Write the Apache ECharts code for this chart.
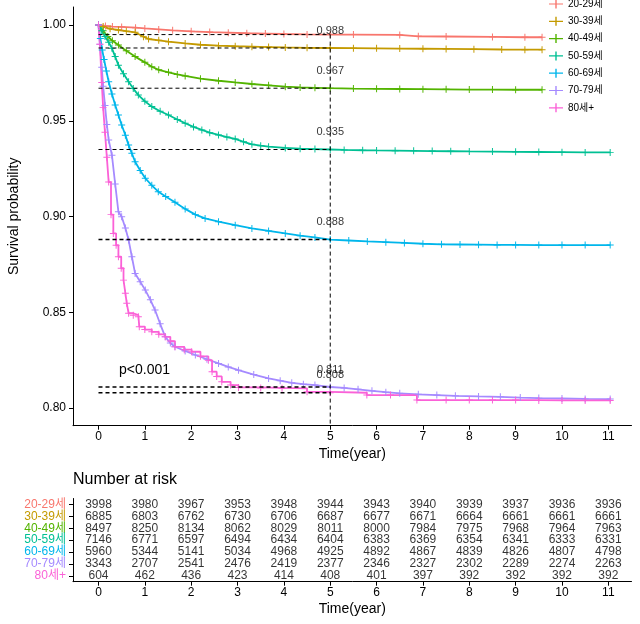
<!DOCTYPE html>
<html>
<head>
<meta charset="utf-8">
<script src="https://cdn.jsdelivr.net/npm/echarts@6/dist/echarts.min.js"></script>
<style>html,body{margin:0;padding:0;background:#fff}#c{width:640px;height:624px}</style>
</head>
<body>
<div id="c"></div>
<script>
// ---------------- DATA ----------------
const groups = ['20-29세', '30-39세', '40-49세', '50-59세', '60-69세', '70-79세', '80세+'];

// Kaplan-Meier curves: [time (year), survival probability]
const surv2029 = [[0,1],[0.15,0.9995],[0.3,0.9992],[0.5,0.999],[0.8,0.9986],[1.0,0.9982],[1.3,0.9977],[1.6,0.9972],[2.0,0.9967],[2.4,0.9963],[2.8,0.996],[3.2,0.9957],[3.6,0.9955],[4.0,0.9953],[4.5,0.9951],[5,0.995],[5.5,0.995],[6.5,0.9948],[6.9,0.9941],[7.5,0.994],[8.5,0.9938],[9.2,0.9936],[9.57,0.9936]];
const surv3039 = [[0,1],[0.1,0.9992],[0.25,0.998],[0.43,0.9974],[0.6,0.9968],[0.79,0.9962],[0.97,0.9939],[1.08,0.9927],[1.3,0.992],[1.51,0.9913],[1.87,0.9904],[2.2,0.9897],[2.59,0.9892],[2.95,0.9889],[3.31,0.9887],[3.67,0.9885],[4.03,0.9883],[4.5,0.9881],[5,0.988],[5.5,0.9879],[6,0.9878],[6.5,0.9877],[7,0.9876],[7.5,0.9875],[8.1,0.9874],[8.7,0.9872],[9.2,0.9871],[9.57,0.9871]];
const surv4049 = [[0,1],[0.1,0.997],[0.2,0.994],[0.3,0.9918],[0.43,0.9896],[0.6,0.9865],[0.79,0.9835],[1.0,0.9805],[1.15,0.9782],[1.3,0.9766],[1.51,0.9753],[1.7,0.9742],[1.87,0.9734],[2.2,0.972],[2.59,0.9709],[2.95,0.97],[3.31,0.9692],[3.67,0.9685],[4.03,0.9678],[4.35,0.9674],[4.67,0.9672],[5,0.967],[5.5,0.9668],[6,0.9667],[6.5,0.9666],[7,0.9665],[7.5,0.9664],[8,0.9663],[8.5,0.9663],[9,0.9662],[9.57,0.9662]];
const surv5059 = [[0,1],[0.07,0.997],[0.14,0.994],[0.22,0.991],[0.29,0.9878],[0.36,0.9835],[0.43,0.979],[0.54,0.9745],[0.65,0.9704],[0.75,0.9668],[0.86,0.9634],[1.0,0.9602],[1.15,0.9574],[1.33,0.955],[1.51,0.953],[1.7,0.9507],[1.87,0.9487],[2.05,0.9468],[2.23,0.9452],[2.4,0.9438],[2.59,0.9426],[2.77,0.9415],[2.95,0.9405],[3.13,0.939],[3.31,0.9377],[3.5,0.937],[3.67,0.9365],[4.03,0.9358],[4.35,0.9354],[4.67,0.9352],[5,0.935],[5.3,0.9348],[5.7,0.9346],[6.0,0.9345],[6.4,0.9344],[6.8,0.9343],[7.2,0.9342],[7.6,0.9341],[8.0,0.934],[8.5,0.9339],[9.0,0.9338],[9.5,0.9337],[10.0,0.9336],[10.5,0.9335],[11.04,0.9335]];
const surv6069 = [[0,1],[0.04,0.993],[0.08,0.987],[0.12,0.982],[0.17,0.976],[0.22,0.9704],[0.29,0.964],[0.36,0.9582],[0.43,0.953],[0.5,0.9478],[0.58,0.9425],[0.65,0.9373],[0.72,0.933],[0.79,0.9286],[0.9,0.924],[1.01,0.92],[1.15,0.9163],[1.29,0.913],[1.45,0.9105],[1.65,0.9075],[1.87,0.904],[2.09,0.901],[2.3,0.899],[2.59,0.8973],[2.95,0.8955],[3.31,0.8938],[3.67,0.8925],[4.03,0.8912],[4.35,0.89],[4.67,0.8891],[5,0.888],[5.4,0.8875],[5.8,0.887],[6.2,0.8866],[6.6,0.8862],[7.0,0.8858],[7.4,0.8855],[7.8,0.8854],[8.2,0.8853],[8.6,0.8852],[9.0,0.8852],[9.5,0.8851],[10,0.8851],[10.5,0.8851],[11.04,0.8851]];
const surv7079 = [[0,1],[0.03,0.99],[0.07,0.978],[0.1,0.968],[0.14,0.958],[0.18,0.948],[0.22,0.94],[0.29,0.932],[0.36,0.917],[0.43,0.9025],[0.5,0.8999],[0.58,0.894],[0.65,0.8877],[0.72,0.879],[0.79,0.8703],[0.9,0.866],[1.01,0.8616],[1.12,0.8565],[1.22,0.8512],[1.33,0.844],[1.44,0.8372],[1.55,0.834],[1.65,0.832],[1.87,0.8298],[2.09,0.8277],[2.34,0.8255],[2.59,0.8233],[2.8,0.8215],[3.02,0.8198],[3.35,0.8175],[3.67,0.8155],[3.92,0.8143],[4.17,0.8132],[4.42,0.8125],[4.67,0.812],[5,0.811],[5.3,0.8105],[5.6,0.8098],[5.9,0.809],[6.2,0.8083],[6.5,0.8077],[6.9,0.8072],[7.3,0.8068],[7.7,0.8064],[8.2,0.8061],[8.67,0.8059],[9.1,0.8055],[9.5,0.8052],[10,0.805],[10.5,0.8048],[11.04,0.8047]];
const surv80 = [[0,1],[0.03,0.99],[0.07,0.97],[0.1,0.957],[0.14,0.944],[0.18,0.931],[0.22,0.918],[0.27,0.901],[0.32,0.8912],[0.38,0.885],[0.43,0.879],[0.49,0.873],[0.54,0.8668],[0.58,0.86],[0.61,0.8547],[0.65,0.8495],[0.75,0.8485],[0.86,0.8477],[0.88,0.8425],[1.0,0.841],[1.15,0.8398],[1.3,0.8385],[1.44,0.8372],[1.55,0.835],[1.65,0.832],[1.85,0.8305],[2.01,0.8294],[2.2,0.827],[2.37,0.825],[2.45,0.819],[2.55,0.8165],[2.66,0.8137],[2.85,0.812],[3.02,0.8108],[3.5,0.8105],[3.96,0.8103],[4.5,0.8085],[5,0.808],[5.79,0.8068],[6.3,0.8068],[6.87,0.8042],[7.5,0.8042],[8,0.8042],[8.5,0.8042],[9,0.8042],[9.5,0.804],[10,0.804],[10.5,0.804],[11.04,0.804]];

// 5-year reference levels (dashed lines) and the printed labels
const fiveYearLevels = [0.995, 0.988, 0.967, 0.935, 0.888, 0.811, 0.808];
const fiveYearLabels = [0.988, 0.967, 0.935, 0.888, 0.811, 0.808];
const refTime = 5;
const pText = 'p<0.001';

// Number at risk table
const riskTimes = [0, 1, 2, 3, 4, 5, 6, 7, 8, 9, 10, 11];
const risk2029 = [3998, 3980, 3967, 3953, 3948, 3944, 3943, 3940, 3939, 3937, 3936, 3936];
const risk3039 = [6885, 6803, 6762, 6730, 6706, 6687, 6677, 6671, 6664, 6661, 6661, 6661];
const risk4049 = [8497, 8250, 8134, 8062, 8029, 8011, 8000, 7984, 7975, 7968, 7964, 7963];
const risk5059 = [7146, 6771, 6597, 6494, 6434, 6404, 6383, 6369, 6354, 6341, 6333, 6331];
const risk6069 = [5960, 5344, 5141, 5034, 4968, 4925, 4892, 4867, 4839, 4826, 4807, 4798];
const risk7079 = [3343, 2707, 2541, 2476, 2419, 2377, 2346, 2327, 2302, 2289, 2274, 2263];
const risk80 = [604, 462, 436, 423, 414, 408, 401, 397, 392, 392, 392, 392];

const xTicks = [0, 1, 2, 3, 4, 5, 6, 7, 8, 9, 10, 11];
const yTicks = [0.80, 0.85, 0.90, 0.95, 1.00];

// ---------------- STYLE / BUILD ----------------
const curves = [surv2029, surv3039, surv4049, surv5059, surv6069, surv7079, surv80];
const risks = [risk2029, risk3039, risk4049, risk5059, risk6069, risk7079, risk80];
const stepped = [false, false, false, false, false, false, 'end'];
const colors = ['#F8766D', '#C49A00', '#53B400', '#00C094', '#00B6EB', '#A58AFF', '#FB61D7'];
const FONT = '"Liberation Sans", Arial, "Noto Sans CJK KR", sans-serif';
const plus = 'path://M0,4.3h10v1.4h-10z M4.3,0h1.4v10h-1.4z';
const legendIcon = 'path://M0,4.4h14v1.2H0z M6.3,0.5h1.4v9H6.3z';
const X_MIN = -0.55, X_MAX = 11.5, Y_MIN = 0.7908, Y_MAX = 1.0094;

const chart = echarts.init(document.getElementById('c'), null, {renderer: 'canvas'});

const series = [];
groups.forEach((g, i) => {
  series.push({
    type: 'line', name: g, step: stepped[i], data: curves[i],
    xAxisIndex: 0, yAxisIndex: 0,
    symbol: plus, symbolSize: 7, showSymbol: true, showAllSymbol: true,
    lineStyle: {width: 1.8, color: colors[i]},
    itemStyle: {color: colors[i]},
    emphasis: {disabled: true}, z: 3
  });
});
fiveYearLevels.forEach((v) => {
  series.push({
    type: 'line', data: [[0, v], [refTime, v]], symbol: 'none', silent: true,
    xAxisIndex: 0, yAxisIndex: 0,
    lineStyle: {color: '#000', width: (v < 0.9 ? 1.6 : 1), type: [4, 3]}, z: 5
  });
});
series.push({
  type: 'line', data: [[refTime, fiveYearLevels[0]], [refTime, Y_MIN]], symbol: 'none', silent: true,
  xAxisIndex: 0, yAxisIndex: 0,
  lineStyle: {color: '#000', width: 1, type: [4, 3]}, z: 5
});
series.push({
  type: 'scatter', data: fiveYearLabels.map(v => [refTime, v]), symbolSize: 0, silent: true,
  xAxisIndex: 0, yAxisIndex: 0,
  label: {show: true, position: 'top', distance: 12, color: '#000', fontSize: 11, fontFamily: FONT,
    formatter: p => p.value[1].toFixed(3)}, z: 6
});
const riskData = [];
risks.forEach((arr, i) => arr.forEach((n, j) => riskData.push([riskTimes[j], groups[i], n])));
series.push({
  type: 'scatter', data: riskData, symbolSize: 0, silent: true,
  xAxisIndex: 1, yAxisIndex: 1,
  label: {show: true, position: 'inside', color: '#000', fontSize: 12, fontFamily: FONT,
    formatter: p => String(p.value[2])}
});

const rich = {};
colors.forEach((c, i) => rich['g' + i] = {color: c, fontSize: 12, fontFamily: FONT});

const lineCommon = {show: true, onZero: false, lineStyle: {color: '#000', width: 1}};
const tickStyle = {color: '#000', width: 1};

chart.setOption({
  animation: false,
  backgroundColor: '#fff',
  textStyle: {fontFamily: FONT},
  legend: {
    data: groups, orient: 'vertical', left: 549, top: -1, padding: 0,
    itemWidth: 14, itemHeight: 10, itemGap: 7.3, icon: legendIcon,
    textStyle: {fontSize: 10, color: '#000', fontFamily: FONT, lineHeight: 10}
  },
  grid: [
    {left: 73, top: 7, width: 558.5, height: 418.7, outerBoundsMode: 'none'},
    {left: 73, top: 498.5, width: 558.5, height: 83.2, outerBoundsMode: 'none'}
  ],
  xAxis: [
    {
      gridIndex: 0, type: 'value', min: X_MIN, max: X_MAX, splitLine: {show: false},
      axisLine: lineCommon,
      name: 'Time(year)', nameLocation: 'middle', nameGap: 19,
      nameTextStyle: {fontSize: 14, color: '#000', fontFamily: FONT},
      axisTick: {show: true, length: 4, lineStyle: tickStyle, customValues: xTicks},
      axisLabel: {customValues: xTicks, margin: 5, fontSize: 12, color: '#000', fontFamily: FONT}
    },
    {
      gridIndex: 1, type: 'value', min: X_MIN, max: X_MAX, splitLine: {show: false},
      axisLine: lineCommon,
      name: 'Time(year)', nameLocation: 'middle', nameGap: 20,
      nameTextStyle: {fontSize: 14, color: '#000', fontFamily: FONT},
      axisTick: {show: true, length: 4, lineStyle: tickStyle, customValues: xTicks},
      axisLabel: {customValues: xTicks, margin: 5, fontSize: 12, color: '#000', fontFamily: FONT}
    }
  ],
  yAxis: [
    {
      gridIndex: 0, type: 'value', min: Y_MIN, max: Y_MAX, splitLine: {show: false},
      axisLine: lineCommon,
      name: 'Survival probability', nameLocation: 'middle', nameGap: 52,
      nameTextStyle: {fontSize: 14, color: '#000', fontFamily: FONT},
      axisTick: {show: true, length: 4, lineStyle: tickStyle, customValues: yTicks},
      axisLabel: {customValues: yTicks, margin: 7, fontSize: 12, color: '#000', fontFamily: FONT,
        formatter: v => Number(v).toFixed(2)}
    },
    {
      gridIndex: 1, type: 'category', data: groups, inverse: true, splitLine: {show: false},
      axisLine: lineCommon,
      axisTick: {show: true, length: 4, interval: 0, alignWithLabel: true, lineStyle: tickStyle},
      axisLabel: {interval: 0, margin: 7, formatter: (v, i) => '{g' + i + '|' + v + '}', rich: rich}
    }
  ],
  graphic: [
    {type: 'text', left: 73, top: 472, style: {text: 'Number at risk', fontSize: 16, fill: '#000', fontFamily: FONT}},
    {type: 'text', left: 119, top: 363, style: {text: pText, fontSize: 14, fill: '#000', fontFamily: FONT}}
  ],
  series: series
});
</script>
</body>
</html>
